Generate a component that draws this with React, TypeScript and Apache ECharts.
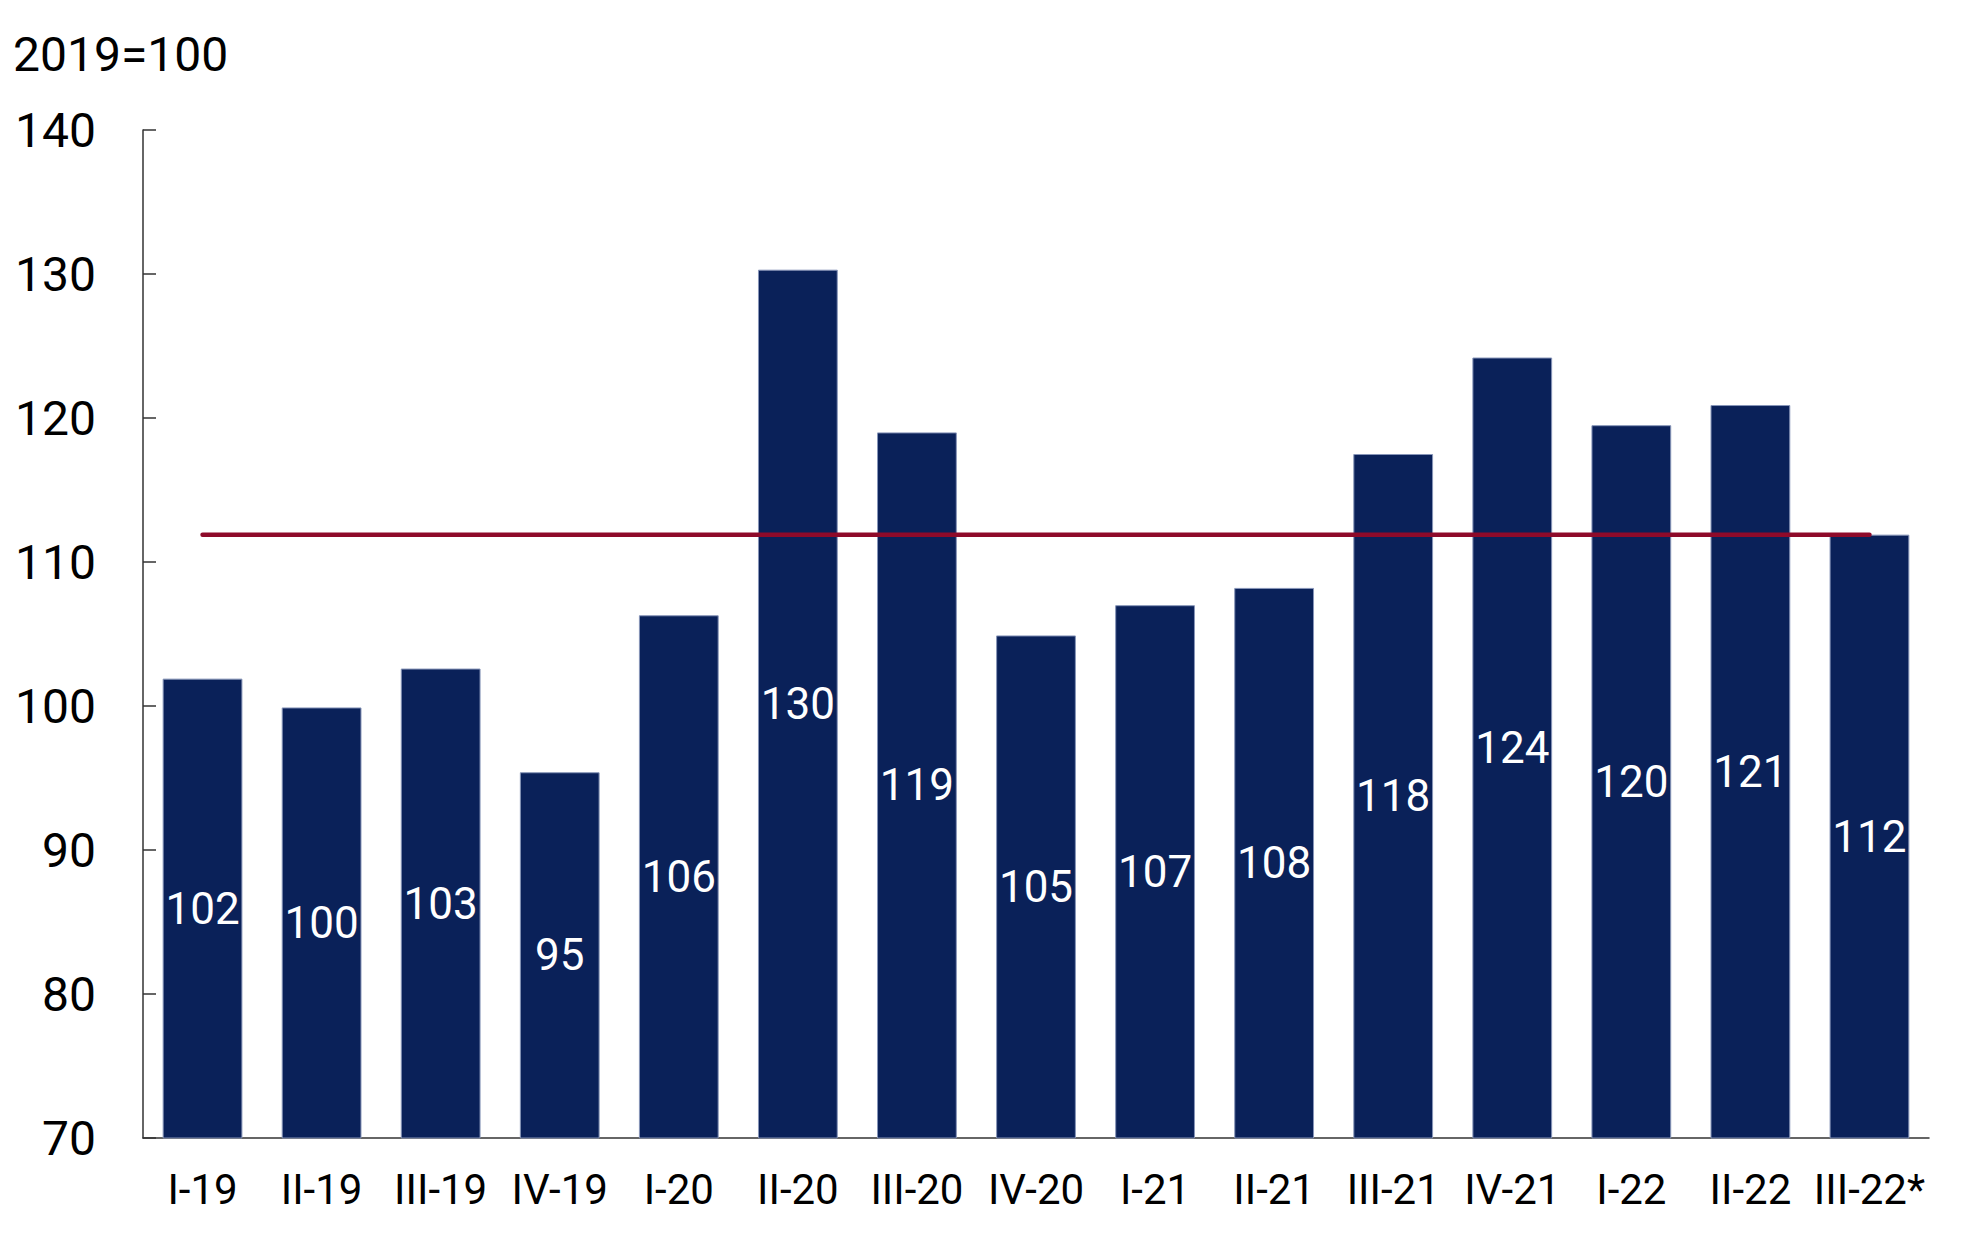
import React, { useEffect, useRef } from "react";
import * as echarts from "echarts";

const categories = [
  "I-19", "II-19", "III-19", "IV-19", "I-20", "II-20", "III-20", "IV-20",
  "I-21", "II-21", "III-21", "IV-21", "I-22", "II-22", "III-22*",
];
const indexValues = [
  101.9, 99.9, 102.6, 95.4, 106.3, 130.3, 119.0, 104.9,
  107.0, 108.2, 117.5, 124.2, 119.5, 120.9, 111.9,
];
const averageLine = [
  111.9, 111.9, 111.9, 111.9, 111.9, 111.9, 111.9, 111.9,
  111.9, 111.9, 111.9, 111.9, 111.9, 111.9, 111.9,
];
const unitLabel = "2019=100";

export default function App() {
  const ref = useRef<HTMLDivElement>(null);
  useEffect(() => {
    if (!ref.current) return;
    const chart = echarts.init(ref.current, null, { renderer: "svg" });
    const font = "Roboto";
    chart.setOption({
      animation: false,
      backgroundColor: "#ffffff",
      grid: { left: 143, top: 130, right: 40, bottom: 104, containLabel: false },
      graphic: [
        {
          type: "text",
          x: 13,
          y: 54,
          style: {
            text: unitLabel,
            fontFamily: font,
            fontSize: 48,
            fill: "#000",
            verticalAlign: "middle",
          },
        },
      ],
      xAxis: {
        type: "category",
        data: categories,
        boundaryGap: true,
        axisLine: { lineStyle: { color: "#333", width: 1.5 } },
        axisTick: { inside: true, length: 13, alignWithLabel: false, lineStyle: { color: "#333", width: 1.5 } },
        axisLabel: {
          color: "#000",
          fontFamily: font,
          fontSize: 42,
          margin: 30,
          interval: 0,
        },
      },
      yAxis: {
        type: "value",
        min: 70,
        max: 140,
        interval: 10,
        splitLine: { show: false },
        axisLine: { show: true, lineStyle: { color: "#333", width: 1.5 } },
        axisTick: { show: true, inside: true, length: 13, lineStyle: { color: "#333", width: 1.5 } },
        axisLabel: {
          color: "#000",
          fontFamily: font,
          fontSize: 48,
          margin: 47,
        },
      },
      series: [
        {
          type: "bar",
          data: indexValues,
          barCategoryGap: "33%",
          itemStyle: { color: "#0a2159", borderColor: "#8795b8", borderWidth: 1 },
          label: {
            show: true,
            position: "inside",
            color: "#fff",
            fontFamily: font,
            fontSize: 44,
            formatter: (p: any) => String(Math.round(p.value)),
          },
          z: 2,
        },
        {
          type: "line",
          data: averageLine,
          symbol: "none",
          lineStyle: { color: "#8e0a2a", width: 4.5, cap: "round" },
          z: 5,
        },
      ],
    });
    return () => chart.dispose();
  }, []);
  return (
    <div
      ref={ref}
      style={{ position: "fixed", left: 0, top: 0, width: 1969, height: 1242 }}
    />
  );
}
